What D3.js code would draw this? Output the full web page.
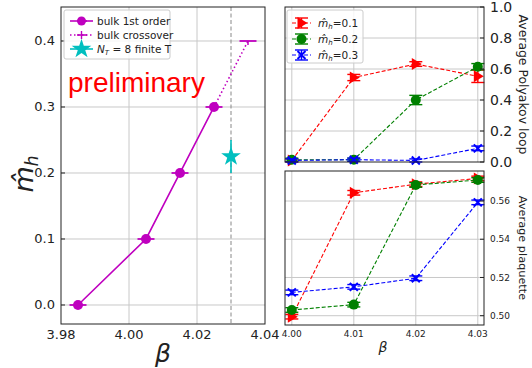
<!DOCTYPE html>
<html lang="en">
  <head>
    <meta charset="utf-8" />
    <script src="https://cdn.jsdelivr.net/npm/d3@7/dist/d3.min.js"></script>
    <title>mh vs beta</title>
    <style>
      body { margin: 0; background: #fff; }
      text { font-family: "DejaVu Sans", sans-serif; fill: #222; }
      .grid line { stroke: #c8c8c8; stroke-width: 1; }
    </style>
  </head>
  <body>
    <div id="container"></div>
    <script>
      // left panel: bulk transition line
      const bulkBeta = [3.985, 4.005, 4.015, 4.025];
      const bulkMh = [0.0, 0.1, 0.2, 0.3];
      const crossBeta = [4.025, 4.035];
      const crossMh = [0.3, 0.4];
      const finiteT = { beta: 4.03, mh: 0.225, err: 0.025 };
      const betaErr = 0.0025;
      const leftXTicks = [3.98, 4.0, 4.02, 4.04];
      const leftYTicks = [0.0, 0.1, 0.2, 0.3, 0.4];

      // right panels
      const betas = [4.0, 4.01, 4.02, 4.03];
      const mhLabels = ["0.1", "0.2", "0.3"];
      const polyakov = [
        [0.01, 0.545, 0.632, 0.553],
        [0.015, 0.015, 0.4, 0.615],
        [0.01, 0.015, 0.01, 0.088]
      ];
      const polyakovErr = [
        [0.01, 0.02, 0.015, 0.04],
        [0.01, 0.01, 0.03, 0.02],
        [0.01, 0.01, 0.01, 0.015]
      ];
      const plaquette = [
        [0.4995, 0.5643, 0.5688, 0.5718],
        [0.503, 0.5058, 0.5684, 0.571],
        [0.5122, 0.5151, 0.5196, 0.5593]
      ];
      const plaqErr = 0.0012;
      const polyTicks = [0.0, 0.2, 0.4, 0.6, 0.8, 1.0];
      const plaqTicks = [0.5, 0.52, 0.54, 0.56, 0.58];
      const colors = ["#ff0000", "#008000", "#0000ff"];
      const markers = ["tri", "circle", "x"];

      const width = 532, height = 368;
      const svg = d3.select("#container").append("svg").attr("width", width).attr("height", height);

      // ---------- left panel ----------
      const x = d3.scaleLinear().domain([3.98, 4.04]).range([61, 265]);
      const y = d3.scaleLinear().domain([-0.0288, 0.4515]).range([324, 7]);

      const lg = svg.append("g");
      lg.append("g").attr("class", "grid").selectAll("line").data(leftXTicks.slice(1, 3)).join("line")
        .attr("x1", d => x(d)).attr("x2", d => x(d)).attr("y1", 7).attr("y2", 324);
      lg.append("g").attr("class", "grid").selectAll("line").data(leftYTicks).join("line")
        .attr("x1", 61).attr("x2", 265).attr("y1", d => y(d)).attr("y2", d => y(d));

      lg.append("line").attr("x1", x(4.03)).attr("x2", x(4.03)).attr("y1", 7).attr("y2", 324)
        .attr("stroke", "#888").attr("stroke-width", 1).attr("stroke-dasharray", "4,2.5");

      const line = d3.line().x(d => x(d[0])).y(d => y(d[1]));
      lg.append("path").datum(d3.zip(crossBeta, crossMh)).attr("d", line)
        .attr("fill", "none").attr("stroke", "#bf00bf").attr("stroke-width", 1.6).attr("stroke-dasharray", "1.5,2.5");
      lg.append("path").datum(d3.zip(bulkBeta, bulkMh)).attr("d", line)
        .attr("fill", "none").attr("stroke", "#bf00bf").attr("stroke-width", 1.6);

      // x error bars
      const allBeta = bulkBeta.concat([crossBeta[1]]);
      const allMh = bulkMh.concat([crossMh[1]]);
      lg.selectAll(".xerr").data(d3.zip(allBeta, allMh)).join("line").attr("class", "xerr")
        .attr("x1", d => x(d[0] - betaErr)).attr("x2", d => x(d[0] + betaErr))
        .attr("y1", d => y(d[1])).attr("y2", d => y(d[1]))
        .attr("stroke", "#bf00bf").attr("stroke-width", 1.8);
      lg.append("line").attr("x1", x(crossBeta[1])).attr("x2", x(crossBeta[1]))
        .attr("y1", y(crossMh[1])).attr("y2", y(crossMh[1]) + 4).attr("stroke", "#bf00bf").attr("stroke-width", 1.5);
      lg.selectAll(".pt").data(d3.zip(bulkBeta, bulkMh)).join("circle").attr("class", "pt")
        .attr("cx", d => x(d[0])).attr("cy", d => y(d[1])).attr("r", 5).attr("fill", "#bf00bf");

      // finite T star
      lg.append("line").attr("x1", x(finiteT.beta)).attr("x2", x(finiteT.beta))
        .attr("y1", y(finiteT.mh - finiteT.err)).attr("y2", y(finiteT.mh + finiteT.err))
        .attr("stroke", "#00bfbf").attr("stroke-width", 1.6);
      const star = d3.symbol().type(d3.symbolStar).size(120);
      lg.append("path").attr("d", star()).attr("fill", "#00bfbf")
        .attr("transform", `translate(${x(finiteT.beta)},${y(finiteT.mh)})`);

      // frame + ticks
      lg.append("rect").attr("x", 61).attr("y", 7).attr("width", 204).attr("height", 317)
        .attr("fill", "none").attr("stroke", "#222").attr("stroke-width", 1);
      lg.selectAll(".ytl").data(leftYTicks).join("text").attr("class", "ytl")
        .attr("x", 55).attr("y", d => y(d) + 4.5).attr("text-anchor", "end").attr("font-size", 13)
        .text(d => d3.format(".1f")(d));
      lg.selectAll(".ytk").data(leftYTicks).join("line").attr("class", "ytk")
        .attr("x1", 61).attr("x2", 65).attr("y1", d => y(d)).attr("y2", d => y(d)).attr("stroke", "#222");
      lg.selectAll(".xtl").data(leftXTicks).join("text").attr("class", "xtl")
        .attr("x", d => x(d)).attr("y", 339).attr("text-anchor", "middle").attr("font-size", 13)
        .text(d => d3.format(".2f")(d));
      lg.append("text").attr("x", 163).attr("y", 362).attr("text-anchor", "middle")
        .attr("font-size", 25).attr("font-style", "italic").text("β");
      lg.append("text").attr("transform", "translate(33,174) rotate(-90)").attr("text-anchor", "middle")
        .attr("font-size", 27).attr("font-style", "italic")
        .html('m\u0302<tspan font-size="17" dy="5">h</tspan>');

      lg.append("text").attr("x", 68).attr("y", 92).attr("font-size", 28)
        .style("font-family", "'Liberation Sans', Arial, sans-serif").style("fill", "#ff0000").text("preliminary");

      // left legend
      const leg = lg.append("g");
      leg.append("rect").attr("x", 64).attr("y", 10).attr("width", 106).attr("height", 49).attr("rx", 2)
        .attr("fill", "#fff").attr("fill-opacity", 0.8).attr("stroke", "#ccc");
      leg.append("line").attr("x1", 70).attr("x2", 93).attr("y1", 21).attr("y2", 21).attr("stroke", "#bf00bf").attr("stroke-width", 1.6);
      leg.append("line").attr("x1", 77).attr("x2", 87).attr("y1", 21).attr("y2", 21).attr("stroke", "#bf00bf").attr("stroke-width", 1.8);
      leg.append("circle").attr("cx", 81.5).attr("cy", 21).attr("r", 4.5).attr("fill", "#bf00bf");
      leg.append("line").attr("x1", 70).attr("x2", 93).attr("y1", 35).attr("y2", 35).attr("stroke", "#bf00bf")
        .attr("stroke-width", 1.6).attr("stroke-dasharray", "1.5,2.5");
      leg.append("line").attr("x1", 77).attr("x2", 87).attr("y1", 35).attr("y2", 35).attr("stroke", "#bf00bf").attr("stroke-width", 1.6);
      leg.append("line").attr("x1", 81.5).attr("x2", 81.5).attr("y1", 31).attr("y2", 39).attr("stroke", "#bf00bf").attr("stroke-width", 1.4);
      leg.append("line").attr("x1", 70).attr("x2", 93).attr("y1", 49).attr("y2", 49).attr("stroke", "#00bfbf").attr("stroke-width", 1.6);
      leg.append("path").attr("d", star()).attr("fill", "#00bfbf").attr("transform", "translate(81.5,49)");
      leg.append("text").attr("x", 97).attr("y", 25).attr("font-size", 10.5).text("bulk 1st order");
      leg.append("text").attr("x", 97).attr("y", 39).attr("font-size", 10.5).text("bulk crossover");
      leg.append("text").attr("x", 97).attr("y", 53).attr("font-size", 10.5)
        .html('<tspan font-style="italic">N</tspan><tspan font-size="7" font-style="italic" dy="2">T</tspan><tspan dy="-2"> = 8 finite T</tspan>');

      // ---------- right panels ----------
      const xr = d3.scaleLinear().domain([3.9989, 4.031]).range([285, 484]);

      function marker(g, type, color, cx, cy) {
        if (type === "circle") {
          g.append("circle").attr("cx", cx).attr("cy", cy).attr("r", 5).attr("fill", color);
        } else if (type === "tri") {
          g.append("path").attr("d", `M${cx + 6},${cy} L${cx - 4},${cy - 6} L${cx - 4},${cy + 6} Z`).attr("fill", color);
        } else {
          g.append("path").attr("d", `M${cx - 4},${cy - 4} L${cx + 4},${cy + 4} M${cx - 4},${cy + 4} L${cx + 4},${cy - 4}`)
            .attr("stroke", color).attr("stroke-width", 2);
        }
      }

      function panel(yScale, y0, y1p, series, errs, ticks, fmt, tickSize, label, labelSize, clipTop) {
        const g = svg.append("g");
        g.append("g").attr("class", "grid").selectAll("line").data(betas).join("line")
          .attr("x1", d => xr(d)).attr("x2", d => xr(d)).attr("y1", y0).attr("y2", y1p);
        g.append("g").attr("class", "grid").selectAll("line").data(ticks.filter(t => yScale(t) > y0 && yScale(t) < y1p)).join("line")
          .attr("x1", 285).attr("x2", 484).attr("y1", d => yScale(d)).attr("y2", d => yScale(d)).attr("stroke-width", 1.6).attr("stroke", "#d8d8d8");
        series.forEach((vals, i) => {
          const pts = d3.zip(betas, vals);
          g.append("path").datum(pts).attr("d", d3.line().x(d => xr(d[0])).y(d => yScale(d[1])))
            .attr("fill", "none").attr("stroke", colors[i]).attr("stroke-width", 1.1).attr("stroke-dasharray", "4,2");
          pts.forEach((p, j) => {
            const e = Array.isArray(errs) ? errs[i][j] : errs;
            const cx = xr(p[0]);
            const ya = yScale(p[1] - e), yb = yScale(p[1] + e);
            g.append("line").attr("x1", cx).attr("x2", cx).attr("y1", ya).attr("y2", yb).attr("stroke", colors[i]).attr("stroke-width", 1.4);
            [ya, yb].forEach(yy => g.append("line").attr("x1", cx - 6.5).attr("x2", cx + 6.5).attr("y1", yy).attr("y2", yy)
              .attr("stroke", colors[i]).attr("stroke-width", 1.4));
            marker(g, markers[i], colors[i], cx, yScale(p[1]));
          });
        });
        g.append("rect").attr("x", 285).attr("y", y0).attr("width", 199).attr("height", y1p - y0)
          .attr("fill", "none").attr("stroke", "#222");
        const tg = g.append("g");
        if (clipTop) {
          svg.append("clipPath").attr("id", "clipb").append("rect").attr("x", 480).attr("y", clipTop).attr("width", 52).attr("height", 200);
          tg.attr("clip-path", "url(#clipb)");
        }
        tg.selectAll("text").data(ticks).join("text")
          .attr("x", 490).attr("y", d => yScale(d) + tickSize * 0.36).attr("font-size", tickSize).text(d => fmt(d));
        g.selectAll(".rtk").data(ticks.filter(t => yScale(t) >= y0 - 0.5)).join("line").attr("class", "rtk")
          .attr("x1", 480).attr("x2", 484).attr("y1", d => yScale(d)).attr("y2", d => yScale(d)).attr("stroke", "#222");
        g.append("text").attr("transform", `translate(519,${(y0 + y1p) / 2}) rotate(90)`).attr("text-anchor", "middle")
          .attr("font-size", labelSize).text(label);
        return g;
      }

      const yp = d3.scaleLinear().domain([0, 1]).range([162, 7]);
      const yq = d3.scaleLinear().domain([0.49514, 0.5757]).range([325, 171]);

      panel(yq, 171, 325, plaquette, plaqErr, plaqTicks, d3.format(".2f"), 9, "Average plaquette", 11.3, 166);
      const topPanel = panel(yp, 7, 162, polyakov, polyakovErr, polyTicks, d3.format(".1f"), 14, "Average Polyakov loop", 12.4, null);

      // bottom x ticks
      svg.selectAll(".bxt").data(betas).join("text").attr("class", "bxt")
        .attr("x", d => xr(d)).attr("y", 337).attr("text-anchor", "middle").attr("font-size", 9).text(d => d3.format(".2f")(d));
      svg.append("text").attr("x", 383).attr("y", 352).attr("text-anchor", "middle")
        .attr("font-size", 14).attr("font-style", "italic").text("β");

      // right legend
      const rl = topPanel.append("g");
      rl.append("rect").attr("x", 287).attr("y", 10).attr("width", 76).attr("height", 53).attr("rx", 2)
        .attr("fill", "#fff").attr("fill-opacity", 0.8).attr("stroke", "#ccc");
      mhLabels.forEach((m, i) => {
        const ly = 23 + i * 16;
        rl.append("line").attr("x1", 292).attr("x2", 311).attr("y1", ly).attr("y2", ly)
          .attr("stroke", colors[i]).attr("stroke-width", 1.1).attr("stroke-dasharray", "4,2");
        rl.append("line").attr("x1", 301.5).attr("x2", 301.5).attr("y1", ly - 5).attr("y2", ly + 5).attr("stroke", colors[i]).attr("stroke-width", 1.4);
        [ly - 5, ly + 5].forEach(yy => rl.append("line").attr("x1", 295).attr("x2", 308).attr("y1", yy).attr("y2", yy)
          .attr("stroke", colors[i]).attr("stroke-width", 1.4));
        marker(rl, markers[i], colors[i], 301.5, ly);
        rl.append("text").attr("x", 318).attr("y", ly + 4).attr("font-size", 10.5)
          .html(`<tspan font-style="italic">m\u0302</tspan><tspan font-size="7" font-style="italic" dy="2">h</tspan><tspan dy="-2">=${m}</tspan>`);
      });
    </script>
  </body>
</html>
